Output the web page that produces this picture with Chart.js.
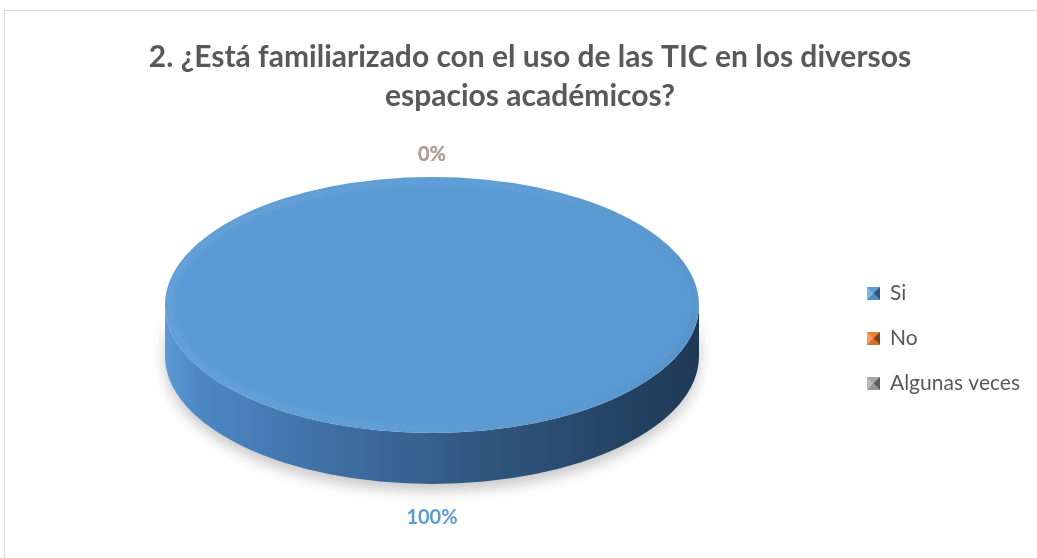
<!DOCTYPE html>
<html><head><meta charset="utf-8">
<script src="https://cdn.jsdelivr.net/npm/chart.js@4.4.1/dist/chart.umd.min.js"></script>
<style>
html,body{margin:0;padding:0;background:#fff;overflow:hidden;}
#frame{position:absolute;left:4px;top:10px;width:1100px;height:700px;border:1px solid #d9d9d9;box-sizing:border-box;}
#wrap{position:absolute;left:0;top:0;width:1037px;height:558px;}
</style></head><body>
<div id="frame"></div>
<div id="wrap"><canvas id="c" width="1037" height="558"></canvas></div>
<script>
const titleLines = ['2. ¿Está familiarizado con el uso de las TIC en los diversos', 'espacios académicos?'];
const categories = ['Si', 'No', 'Algunas veces'];
const values = [100, 0, 0];
const percentLabels = ['100%', '0%', '0%'];
const sliceColors = ['#5b9bd5', '#ed7d31', '#a5a5a5'];

const FONT = 'Lato, "Open Sans", sans-serif';
const TEXT = '#595959';

function shade(hex, f) {
  const n = parseInt(hex.slice(1), 16);
  let r = (n >> 16) & 255, g = (n >> 8) & 255, b = n & 255;
  const m = v => Math.max(0, Math.min(255, Math.round(f < 0 ? v * (1 + f) : v + (255 - v) * f)));
  return 'rgb(' + m(r) + ',' + m(g) + ',' + m(b) + ')';
}
function marker(color) {
  const s = 13, c = document.createElement('canvas');
  c.width = s; c.height = s;
  const x = c.getContext('2d');
  x.fillStyle = color; x.fillRect(0, 0, s, s);
  x.fillStyle = shade(color, 0.25);
  x.beginPath(); x.moveTo(0, 0); x.lineTo(s / 2, s / 2); x.lineTo(0, s); x.closePath(); x.fill();
  x.fillStyle = shade(color, -0.45);
  x.beginPath(); x.moveTo(s, 0); x.lineTo(s / 2, s / 2); x.lineTo(s, s); x.closePath(); x.fill();
  x.fillStyle = shade(color, -0.1);
  x.beginPath(); x.moveTo(0, s); x.lineTo(s / 2, s / 2); x.lineTo(s, s); x.closePath(); x.fill();
  return c;
}

const proj = { cx: 432, cy: 305, rx: 267, ry: 128, depth: 51 };

const pie3d = {
  id: 'pie3d',
  beforeDatasetsDraw(chart) {
    const ctx = chart.ctx;
    const arc = chart.getDatasetMeta(0).data[0];
    const { x, y, outerRadius } = arc.getProps(['x', 'y', 'outerRadius'], true);
    const { cx, cy, rx, ry, depth } = proj;
    // side wall
    ctx.save();
    ctx.shadowColor = 'rgba(0,0,0,0.22)';
    ctx.shadowBlur = 14;
    ctx.shadowOffsetY = 7;
    ctx.beginPath();
    ctx.ellipse(cx, cy, rx, ry, 0, 0, Math.PI, false);
    ctx.lineTo(cx - rx, cy + depth);
    ctx.ellipse(cx, cy + depth, rx, ry, 0, Math.PI, 0, true);
    ctx.closePath();
    const g = ctx.createLinearGradient(cx - rx, 0, cx + rx, 0);
    g.addColorStop(0, '#5b9bd5');
    g.addColorStop(0.06, '#4d88c4');
    g.addColorStop(0.3, '#3f70a5');
    g.addColorStop(0.6, '#30567f');
    g.addColorStop(0.9, '#22405f');
    g.addColorStop(1, '#1f3a56');
    ctx.fillStyle = g;
    ctx.fill();
    ctx.restore();
    // projection of the library's pie onto the ellipse
    ctx.save();
    ctx.translate(cx, cy);
    ctx.scale(rx / outerRadius, ry / outerRadius);
    ctx.translate(-x, -y);
  },
  afterDatasetsDraw(chart) {
    const ctx = chart.ctx;
    ctx.restore();
    const { cx, cy, rx, ry, depth } = proj;
    // soft bevel rim
    ctx.save();
    ctx.beginPath();
    ctx.ellipse(cx, cy, rx - 4, ry - 4, 0, 0, Math.PI * 2);
    const g = ctx.createLinearGradient(cx - rx, cy - ry, cx + rx, cy + ry);
    g.addColorStop(0, 'rgba(255,255,255,0.07)');
    g.addColorStop(0.5, 'rgba(255,255,255,0.04)');
    g.addColorStop(1, 'rgba(0,0,0,0.06)');
    ctx.strokeStyle = g;
    ctx.lineWidth = 7;
    ctx.filter = 'blur(2px)';
    ctx.stroke();
    ctx.restore();
    // data labels
    const meta = chart.getDatasetMeta(0);
    ctx.save();
    ctx.font = 'bold 20px ' + FONT;
    ctx.textAlign = 'center';
    ctx.textBaseline = 'middle';
    meta.data.forEach((a, i) => {
      const { startAngle, endAngle } = a.getProps(['startAngle', 'endAngle'], true);
      const mid = (startAngle + endAngle) / 2;
      const s = Math.sin(mid), c = Math.cos(mid);
      const off = 22;
      const px = cx + c * (rx + off);
      const py = cy + s * (ry + off) + (s > 0 ? (depth + 12) * s : 0);
      ctx.fillStyle = sliceColors[i];
      ctx.fillText(percentLabels[i], px, py);
    });
    ctx.restore();
  }
};

new Chart(document.getElementById('c'), {
  type: 'pie',
  data: {
    labels: categories,
    datasets: [{
      data: values,
      backgroundColor: sliceColors,
      borderWidth: 0,
      clip: false
    }]
  },
  options: {
    responsive: false,
    animation: false,
    layout: { padding: { left: 30, right: 7, top: 0, bottom: 0 } },
    plugins: {
      tooltip: { enabled: false },
      title: {
        display: true,
        text: titleLines,
        color: TEXT,
        font: { family: FONT, size: 30, weight: 'bold', lineHeight: '39px' },
        padding: { top: 37.5, bottom: 17.5 }
      },
      legend: {
        position: 'right',
        align: 'center',
        fullSize: false,
        labels: {
          usePointStyle: true,
          boxWidth: 12,
          boxHeight: 12,
          padding: 10,
          color: TEXT,
          font: { family: FONT, size: 21, lineHeight: '35px' },
          generateLabels(chart) {
            return categories.map((t, i) => ({
              text: [t],
              fillStyle: sliceColors[i],
              strokeStyle: sliceColors[i],
              fontColor: TEXT,
              lineWidth: 0,
              pointStyle: marker(sliceColors[i]),
              hidden: false,
              index: i
            }));
          }
        }
      }
    }
  },
  plugins: [pie3d]
});
</script>
</body></html>
